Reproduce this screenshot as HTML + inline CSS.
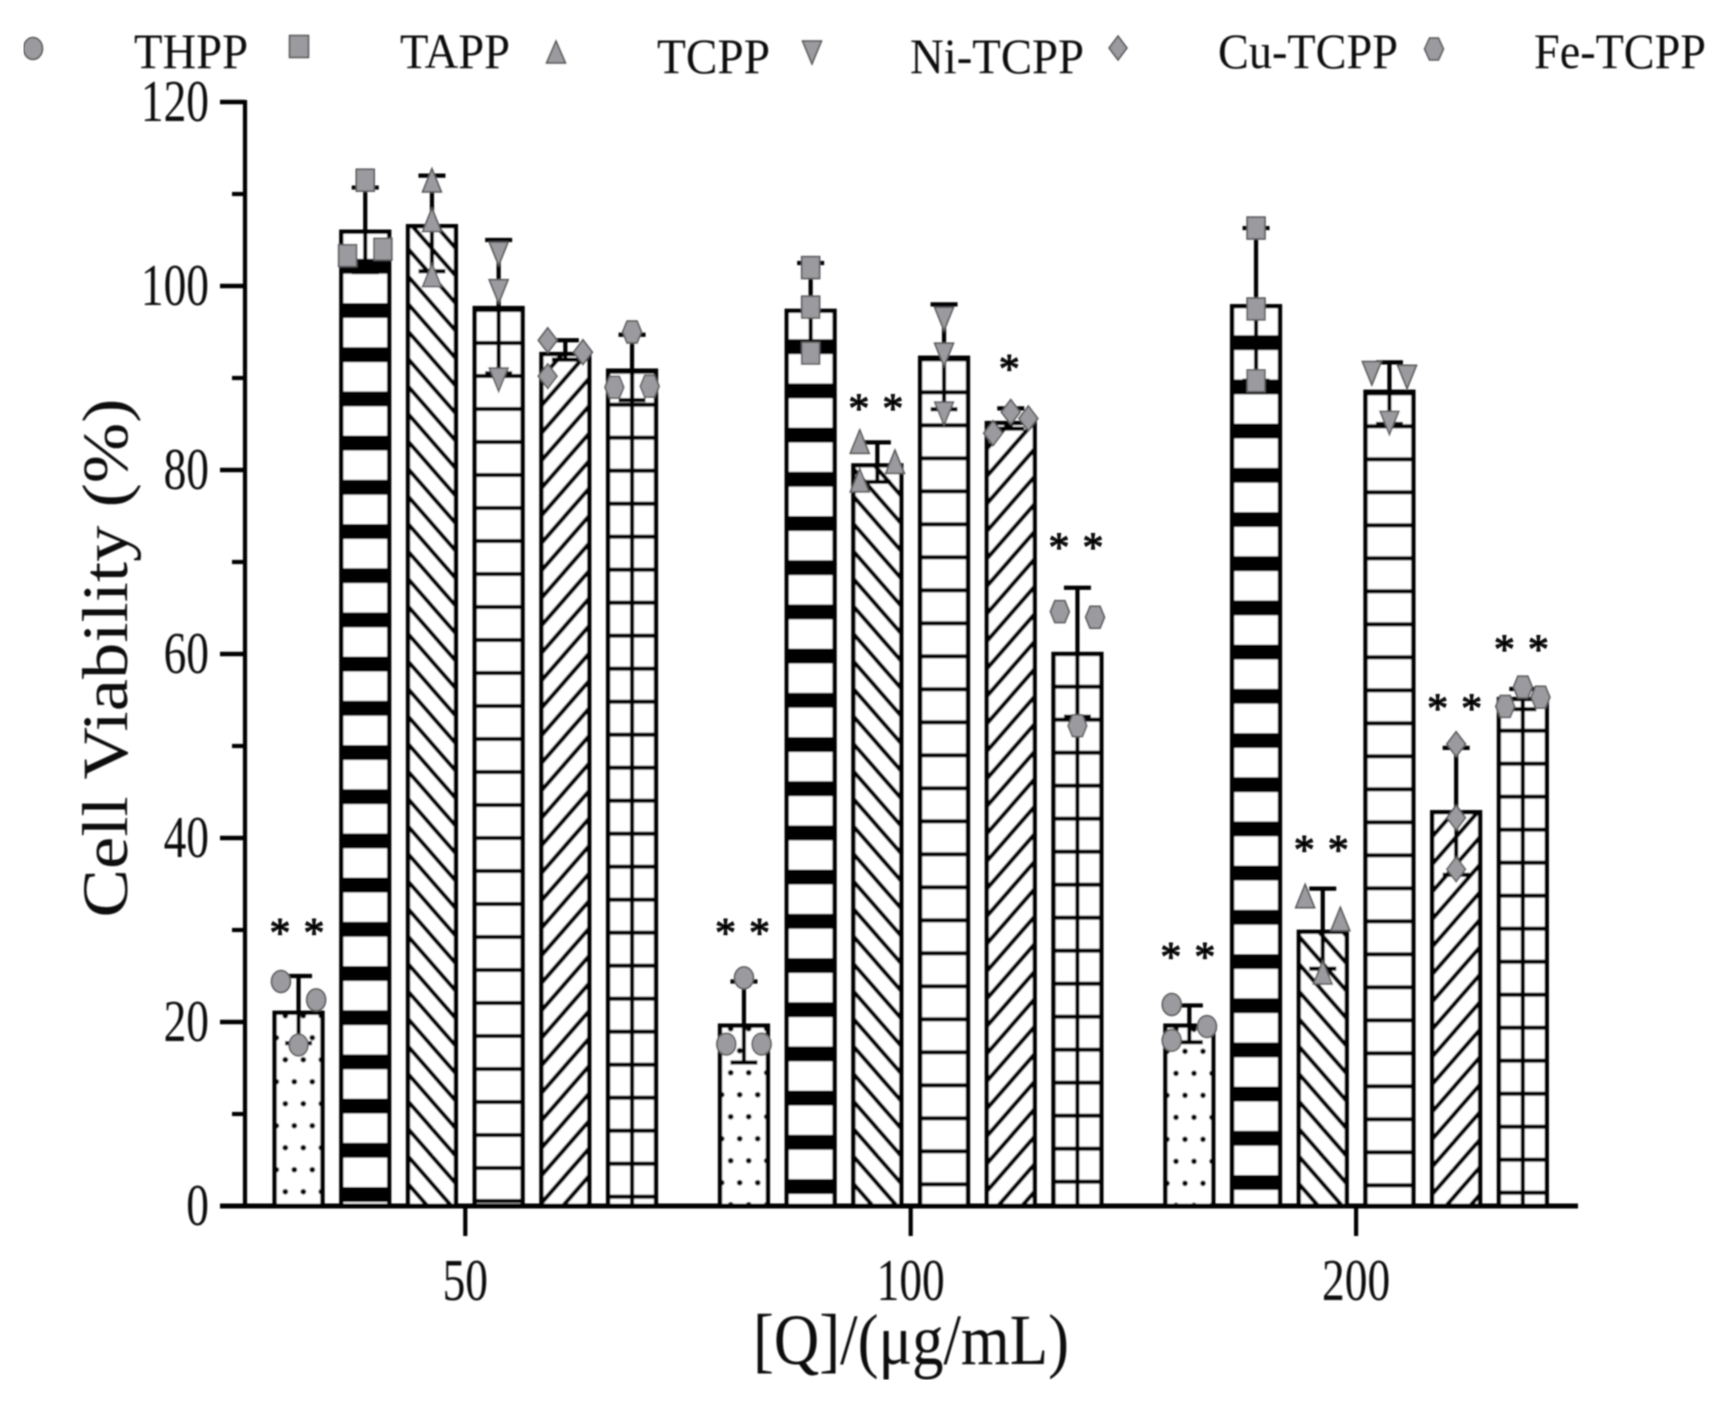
<!DOCTYPE html>
<html lang="en">
<head>
<meta charset="utf-8">
<title>Cell viability bar chart</title>
<style>
html,body{margin:0;padding:0;background:#fff;}
svg{display:block;}
text{font-family:"Liberation Serif",serif;fill:#111;}
</style>
</head>
<body>
<svg id="chart" xmlns="http://www.w3.org/2000/svg" width="1728" height="1411" viewBox="0 0 1728 1411">
  <defs id="defs">
    <filter id="soft" x="0" y="0" width="100%" height="100%" filterUnits="objectBoundingBox"><feGaussianBlur stdDeviation="0.85"/></filter>
  </defs>
  <rect width="1728" height="1411" fill="#fff"/>
  <g id="root" filter="url(#soft)">
    <g id="legend">
      <g>
        <ellipse cx="33" cy="48.5" rx="9.5" ry="11" fill="#9a9a9f" stroke="#555" stroke-width="1.5"/>
        <text x="134" y="68" font-size="50" textLength="114" lengthAdjust="spacingAndGlyphs">THPP</text>
      </g>
      <g>
        <rect x="289.5" y="35.5" width="19" height="22" fill="#9a9a9f" stroke="#555" stroke-width="1.5"/>
        <text x="400" y="68" font-size="50" textLength="110" lengthAdjust="spacingAndGlyphs">TAPP</text>
      </g>
      <g>
        <path d="M556,41 L565.5,63 L546.5,63 Z" fill="#9a9a9f" stroke="#555" stroke-width="1.5"/>
        <text x="657" y="73" font-size="50" textLength="113" lengthAdjust="spacingAndGlyphs">TCPP</text>
      </g>
      <g>
        <path d="M812,64 L821.5,41 L802.5,41 Z" fill="#9a9a9f" stroke="#555" stroke-width="1.5"/>
        <text x="910" y="73" font-size="50" textLength="174" lengthAdjust="spacingAndGlyphs">Ni-TCPP</text>
      </g>
      <g>
        <path d="M1118,36 L1127,48 L1118,60 L1109,48 Z" fill="#9a9a9f" stroke="#555" stroke-width="1.5"/>
        <text x="1218" y="68" font-size="50" textLength="180" lengthAdjust="spacingAndGlyphs">Cu-TCPP</text>
      </g>
      <g>
        <path d="M1424.5,49 L1429.5,38 L1438.5,38 L1443.5,49 L1438.5,60 L1429.5,60 Z" fill="#9a9a9f" stroke="#555" stroke-width="1.5"/>
        <text x="1534" y="68" font-size="50" textLength="172" lengthAdjust="spacingAndGlyphs">Fe-TCPP</text>
      </g>
    </g>
    <g id="bars"></g>
    <g id="errors"></g>
    <g id="points"></g>
    <g id="sig"></g>
    <g id="axes"></g>
    <text transform="translate(127,658) rotate(-90)" text-anchor="middle" font-size="65" textLength="519" lengthAdjust="spacingAndGlyphs">Cell Viability (%)</text>
    <text x="911" y="1364" text-anchor="middle" font-size="72" textLength="316" lengthAdjust="spacingAndGlyphs">[Q]/(μg/mL)</text>
  </g>
</svg>
<script>
const concentrations = ['50', '100', '200'];
const seriesNames = ['THPP', 'TAPP', 'TCPP', 'Ni-TCPP', 'Cu-TCPP', 'Fe-TCPP'];
const yTicks = [0, 20, 40, 60, 80, 100, 120];
const yMinorTicks = [10, 30, 50, 70, 90, 110];

const thppMeans = [21.0, 19.6, 19.6];
const tappMeans = [105.9, 97.3, 97.8];
const tcppMeans = [106.5, 80.5, 29.8];
const niMeans = [97.6, 92.2, 88.5];
const cuMeans = [92.6, 85.1, 42.8];
const feMeans = [90.8, 60.0, 55.1];

const thppErrLow = [17.7, 15.6, 17.8];
const tappErrLow = [101.5, 93.3, 89.7];
const tcppErrLow = [101.6, 78.7, 25.8];
const niErrLow = [90.5, 86.6, 85.0];
const cuErrLow = [92.0, 84.5, 36.0];
const feErrLow = [87.6, 53.2, 54.0];

const thppErrHigh = [25.0, 24.4, 21.8];
const tappErrHigh = [110.7, 102.5, 106.3];
const tcppErrHigh = [112.0, 83.0, 34.5];
const niErrHigh = [105.0, 98.0, 91.7];
const cuErrHigh = [94.1, 86.7, 49.8];
const feErrHigh = [94.7, 67.2, 56.2];

const thppPoints = [[24.4, 22.4, 17.5], [24.8, 17.6, 17.6], [21.9, 19.5, 18.0]];
const tappPoints = [[111.5, 103.3, 104.0], [102.0, 97.7, 92.7], [106.3, 97.5, 89.7]];
const tcppPoints = [[111.3, 107.0, 101.0], [82.9, 80.7, 78.7], [33.5, 31.0, 25.2]];
const niPoints = [[103.7, 99.6, 90.0], [96.6, 92.7, 86.3], [90.7, 90.3, 85.3]];
const cuPoints = [[94.1, 92.8, 90.2], [86.3, 85.6, 84.0], [50.2, 42.2, 36.6]];
const fePoints = [[95.0, 89.0, 89.1], [64.6, 64.0, 52.2], [56.4, 54.3, 55.3]];

// horizontal slot of each replicate: -1 left, 0 centre, 1 right
const thppSlots = [[-1, 1, 0], [0, -1, 1], [-1, 1, -1]];
const tappSlots = [[0, -1, 1], [0, 0, 0], [0, 0, 0]];
const tcppSlots = [[0, 0, 0], [-1, 1, -1], [-1, 1, 0]];
const niSlots = [[0, 0, 0], [0, 0, 0], [-1, 1, 0]];
const cuSlots = [[-1, 1, -1], [0, 1, -1], [0, 0, 0]];
const feSlots = [[0, -1, 1], [-1, 1, 0], [0, -1, 1]];

// significance: asterisk count per bar and the value level it is printed at
const thppStars = [2, 2, 2];
const tappStars = [0, 0, 0];
const tcppStars = [0, 2, 2];
const niStars = [0, 0, 0];
const cuStars = [0, 1, 2];
const feStars = [0, 2, 2];
const thppStarLevels = [30, 30, 27.4];
const tappStarLevels = [0, 0, 0];
const tcppStarLevels = [0, 87, 39];
const niStarLevels = [0, 0, 0];
const cuStarLevels = [0, 91.3, 54.4];
const feStarLevels = [0, 71.9, 60.8];

const allMeans = [thppMeans, tappMeans, tcppMeans, niMeans, cuMeans, feMeans];
const allLow = [thppErrLow, tappErrLow, tcppErrLow, niErrLow, cuErrLow, feErrLow];
const allHigh = [thppErrHigh, tappErrHigh, tcppErrHigh, niErrHigh, cuErrHigh, feErrHigh];
const allPoints = [thppPoints, tappPoints, tcppPoints, niPoints, cuPoints, fePoints];
const allSlots = [thppSlots, tappSlots, tcppSlots, niSlots, cuSlots, feSlots];
const allStars = [thppStars, tappStars, tcppStars, niStars, cuStars, feStars];
const allStarLevels = [thppStarLevels, tappStarLevels, tcppStarLevels, niStarLevels, cuStarLevels, feStarLevels];

const NS = 'http://www.w3.org/2000/svg';
const Y0 = 1206, PX_PER_UNIT = 9.2;
const GROUP_FIRST = 465.3, GROUP_STEP = 445.4, BAR_STEP = 66.7, BAR_W = 47.8;
const JITTER = 17.6;
const GRAY = '#9a9a9f', EDGE = '#555';

function yScale(v) { return Y0 - v * PX_PER_UNIT; }
function groupX(g) { return GROUP_FIRST + g * GROUP_STEP; }
function barX(g, s) { return groupX(g) + (s - 2.5) * BAR_STEP; }
function slug(s) { return s.toLowerCase(); }

function mk(tag, attrs, parent) {
  const e = document.createElementNS(NS, tag);
  for (const k in attrs) e.setAttribute(k, attrs[k]);
  parent.appendChild(e);
  return e;
}

const defs = document.getElementById('defs');
const DOT_PHASE = [[285.3, 1191.7], [721.7, 1182.7], [1167, 1183.3]];
const THICK_PHASE = [1187, 1179, 1175];
const HLINE_PHASE = [1201, 1184.3, 1185.3];
const GRID_PHASE = [1196.7, 1181.7, 1192.7];
const FWD_PHASE = [1094.3, 1110, 1113];
const BACK_PHASE = [1100, 1100, 1100];

function makePattern(g, s) {
  const cx = barX(g, s);
  const id = 'p' + g + '_' + s;
  const p = mk('pattern', { id: id, patternUnits: 'userSpaceOnUse' }, defs);
  const W = 24, H = 27.5;
  const size = (w, h, tx, ty) => {
    p.setAttribute('width', w);
    p.setAttribute('height', h);
    p.setAttribute('patternTransform', 'translate(' + tx + ',' + ty + ')');
  };
  if (s === 0) {
    size(18, 44, DOT_PHASE[g][0], DOT_PHASE[g][1]);
    [[0, 0], [18, 0], [0, 44], [18, 44], [9, 22]].forEach(c => mk('circle', { cx: c[0], cy: c[1], r: 2.8, fill: '#000' }, p));
  } else if (s === 1) {
    size(100, 44.2, cx - 50, THICK_PHASE[g]);
    mk('rect', { x: 0, y: 0, width: 100, height: 15, fill: '#000' }, p);
  } else if (s === 2 || s === 4) {
    const back = s === 2;
    size(W, H, cx + 23, back ? BACK_PHASE[g] : FWD_PHASE[g]);
    [-W, 0, W].forEach(dx => {
      const y1 = back ? -6 * H / W : H + 6 * H / W;
      const y2 = back ? H + 6 * H / W : -6 * H / W;
      mk('line', { x1: -6 + dx, y1: y1, x2: W + 6 + dx, y2: y2, stroke: '#000', 'stroke-width': 4.2 }, p);
    });
  } else {
    size(100, 33, cx - 50, s === 3 ? HLINE_PHASE[g] : GRID_PHASE[g]);
    mk('rect', { x: 0, y: 0, width: 100, height: 2.1, fill: '#000' }, p);
    mk('rect', { x: 0, y: 30.9, width: 100, height: 2.1, fill: '#000' }, p);
  }
  return id;
}

function drawMarker(s, cx, cy, parent, name) {
  const style = { fill: GRAY, stroke: EDGE, 'stroke-width': 1.5 };
  let e;
  if (s === 0) {
    e = mk('ellipse', Object.assign({ cx: cx, cy: cy, rx: 9.5, ry: 11 }, style), parent);
  } else if (s === 1) {
    e = mk('rect', Object.assign({ x: cx - 9, y: cy - 11, width: 18, height: 22 }, style), parent);
  } else {
    const shapes = {
      2: [[0, -13.5], [9.5, 10], [-9.5, 10]],
      3: [[0, 13.5], [9.5, -10], [-9.5, -10]],
      4: [[0, -12.5], [9.5, 0], [0, 12.5], [-9.5, 0]],
      5: [[-9.5, 0], [-5, -11], [5, -11], [9.5, 0], [5, 11], [-5, 11]]
    };
    e = mk('polygon', Object.assign({ points: shapes[s].map(q => (cx + q[0]) + ',' + (cy + q[1])).join(' ') }, style), parent);
  }
  
  
}

const barsG = document.getElementById('bars');
const errorsG = document.getElementById('errors');
const pointsG = document.getElementById('points');
const sigG = document.getElementById('sig');
const axesG = document.getElementById('axes');

concentrations.forEach((conc, g) => {
  seriesNames.forEach((name, s) => {
    const cx = barX(g, s);
    const tag = slug(name) + '-' + conc;
    const top = yScale(allMeans[s][g]);
    const patId = makePattern(g, s);

    const bar = mk('g', {}, barsG);
    
    
    mk('rect', { x: cx - BAR_W / 2, y: top, width: BAR_W, height: Y0 - top, fill: '#fff' }, bar);
    mk('rect', { x: cx - BAR_W / 2, y: top, width: BAR_W, height: Y0 - top, fill: 'url(#' + patId + ')' }, bar);
    if (s === 5) {
      mk('line', { x1: cx, y1: top, x2: cx, y2: Y0, stroke: '#000', 'stroke-width': 4.2 }, bar);
    }
    mk('rect', { x: cx - BAR_W / 2, y: top, width: BAR_W, height: Y0 - top, fill: 'none', stroke: '#000', 'stroke-width': 4.4 }, bar);

    const hi = yScale(allHigh[s][g]);
    const lo = yScale(allLow[s][g]);
    const err = mk('g', { stroke: '#000', 'stroke-width': 4.2, fill: 'none' }, errorsG);
    
    
    mk('line', { x1: cx, y1: hi, x2: cx, y2: lo }, err);
    mk('line', { x1: cx - 13.5, y1: hi, x2: cx + 13.5, y2: hi }, err);
    mk('line', { x1: cx - 13.5, y1: lo, x2: cx + 13.5, y2: lo }, err);

    allPoints[s][g].forEach((v, k) => {
      drawMarker(s, cx + allSlots[s][g][k] * JITTER, yScale(v), pointsG, 'point-' + tag + '-' + (k + 1));
    });

    const stars = allStars[s][g];
    if (stars > 0) {
      const cy = yScale(allStarLevels[s][g]);
      const offs = stars === 2 ? [-18.5, 15.5] : [-1.5];
      offs.forEach((o, k) => {
        const t = mk('text', { x: cx + o, y: cy + 17, 'text-anchor': 'middle', 'font-size': 42, stroke: '#000', 'stroke-width': 1 }, sigG);
        t.textContent = '*';
        
        
      });
    }
  });
});

const yLine = mk('line', { x1: 245, y1: yScale(120) - 2, x2: 245, y2: Y0, stroke: '#000', 'stroke-width': 4.2 }, axesG);


const xLine = mk('line', { x1: 220, y1: Y0, x2: 1578, y2: Y0, stroke: '#000', 'stroke-width': 5 }, axesG);



yTicks.forEach(v => {
  const y = yScale(v);
  const tick = mk('line', { x1: 220, y1: y, x2: 245, y2: y, stroke: '#000', 'stroke-width': 4.6 }, axesG);
  
  
  const label = String(v);
  const lbl = mk('text', { x: 209, y: y + 19, 'text-anchor': 'end', 'font-size': 59, textLength: label.length * 22.7, lengthAdjust: 'spacingAndGlyphs' }, axesG);
  lbl.textContent = label;
  
  
});
yMinorTicks.forEach(v => {
  const y = yScale(v);
  const tick = mk('line', { x1: 232, y1: y, x2: 245, y2: y, stroke: '#000', 'stroke-width': 4.2 }, axesG);
  
  
});
concentrations.forEach((conc, g) => {
  const x = groupX(g);
  const tick = mk('line', { x1: x, y1: Y0, x2: x, y2: 1236, stroke: '#000', 'stroke-width': 4.2 }, axesG);
  
  
  const lbl = mk('text', { x: x, y: 1300, 'text-anchor': 'middle', 'font-size': 59, textLength: conc.length * 22.7, lengthAdjust: 'spacingAndGlyphs' }, axesG);
  lbl.textContent = conc;
  
  
});
</script>
</body>
</html>
